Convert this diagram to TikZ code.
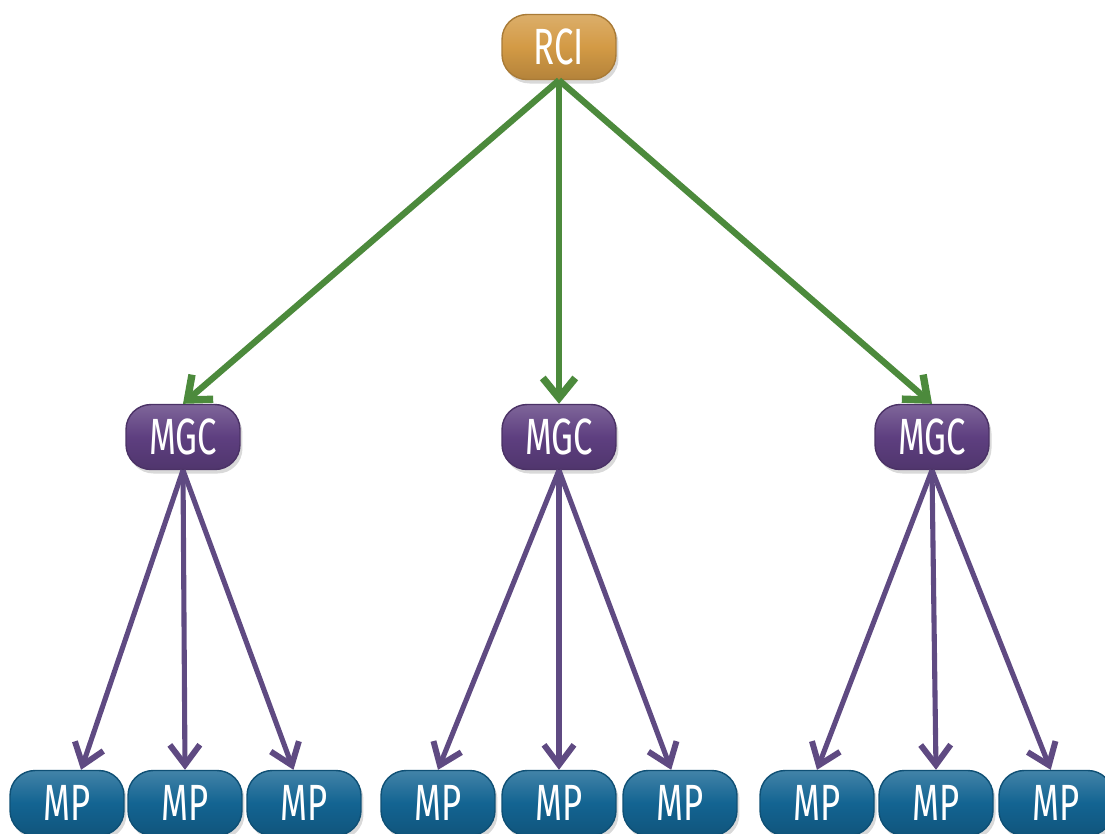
\documentclass[tikz,border=0pt]{standalone}
\usepackage{fontspec}
\setsansfont{Fira Sans}[FakeStretch=0.68]
\usetikzlibrary{arrows.meta,shadows}
\usepackage{xcolor}
\definecolor{rcigold}{HTML}{D39A45}
\definecolor{mgcpurple}{HTML}{5E3F80}
\definecolor{mpblue}{HTML}{136492}
\definecolor{arrgreen}{HTML}{4C8A3C}
\definecolor{arrpurple}{HTML}{5F4A82}
\tikzset{
  box/.style={rounded corners=0.5cm, minimum width=2.28cm, minimum height=1.3cm,
    text=white, font=\sffamily\fontsize{29}{29}\selectfont,
    draw=#1!80!black, thick, top color=#1!80!white, bottom color=#1!85!black, middle color=#1,
    drop shadow={opacity=0.3, shadow xshift=0.5mm, shadow yshift=-0.8mm}},
  greenarr/.style={draw=arrgreen, line width=3.6pt, -{Straight Barb[length=4mm,width=6.5mm,line width=4.2pt]}},
  purparr/.style={draw=arrpurple, line width=2.9pt, -{Straight Barb[length=4mm,width=6mm,line width=3.4pt]}}
}

\begin{document}
\begin{tikzpicture}[x=0.02cm,y=-0.02cm]
    \useasboundingbox (0,0) rectangle (1105,833);
    \clip (0,0) rectangle (1105,833);

    % top level
    \node[box=rcigold] (rci) at (559,47) {RCI};

    % middle level
    \node[box=mgcpurple] (mgcA) at (183,437) {MGC};
    \node[box=mgcpurple] (mgcB) at (559,437) {MGC};
    \node[box=mgcpurple] (mgcC) at (932,437) {MGC};

    % bottom level
    \node[box=mpblue] (mpA1) at (67,803) {MP};
    \node[box=mpblue] (mpA2) at (185,803) {MP};
    \node[box=mpblue] (mpA3) at (304,803) {MP};
    \node[box=mpblue] (mpB1) at (438,803) {MP};
    \node[box=mpblue] (mpB2) at (559,803) {MP};
    \node[box=mpblue] (mpB3) at (680,803) {MP};
    \node[box=mpblue] (mpC1) at (817,803) {MP};
    \node[box=mpblue] (mpC2) at (936,803) {MP};
    \node[box=mpblue] (mpC3) at (1056,803) {MP};

    \foreach \m in {mgcA,mgcB,mgcC}
      \draw[greenarr] (rci.south) -- (\m.north);

    \draw[purparr] (mgcA.south) -- ([xshift=8]mpA1.north);
    \draw[purparr] (mgcA.south) -- (mpA2.north);
    \draw[purparr] (mgcA.south) -- ([xshift=-6]mpA3.north);
    \draw[purparr] (mgcB.south) -- (mpB1.north);
    \draw[purparr] (mgcB.south) -- (mpB2.north);
    \draw[purparr] (mgcB.south) -- ([xshift=-5]mpB3.north);
    \draw[purparr] (mgcC.south) -- (mpC1.north);
    \draw[purparr] (mgcC.south) -- (mpC2.north);
    \draw[purparr] (mgcC.south) -- ([xshift=-3]mpC3.north);
\end{tikzpicture}
\end{document}
